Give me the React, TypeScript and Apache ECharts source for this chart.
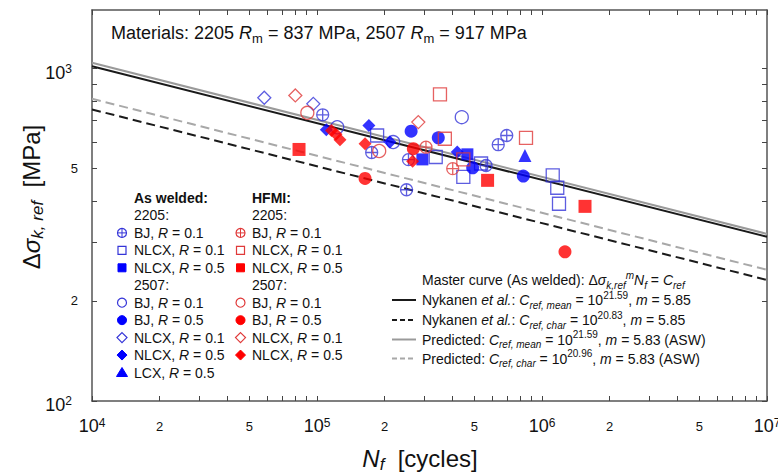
import React, { useEffect, useRef } from "react";
import * as echarts from "echarts";

// ---- Data: [N_f (cycles), Δσ_k,ref (MPa)] ----
// As welded (blue)
const awBJ01_2205 = [[106000, 726], [175000, 559], [255000, 532], [250000, 432], [564000, 511], [639000, 590], [697000, 629]];
const awNLCX01_2205 = [[185000, 629], [337000, 542], [447000, 472], [536000, 518], [1116000, 477], [1169000, 438], [1190000, 392]];
const awNLCX05_2205 = [[294000, 533], [466000, 552]];
const awBJ01_2507 = [[123000, 666], [440000, 714], [218000, 601]];
const awBJ05_2507 = [[262000, 648], [346000, 619], [492000, 503], [826000, 475]];
const awNLCX01_2507 = [[58300, 817], [96300, 783]];
const awNLCX05_2507 = [[110000, 654], [170000, 674], [211000, 601], [420000, 561]];
const awLCX05 = [[840000, 548]];
// HFMI (red)
const hfBJ01_2205 = [[305000, 580], [401000, 500]];
const hfNLCX01_2205 = [[352000, 836], [370000, 615], [447000, 533], [849000, 619]];
const hfNLCX05_2205 = [[83200, 571], [573000, 461], [1553000, 385]];
const hfBJ01_2507 = [[90600, 736], [189000, 565]];
const hfBJ05_2507 = [[163500, 467], [268000, 574], [1265000, 281]];
const hfNLCX01_2507 = [[80100, 830], [282000, 690]];
const hfNLCX05_2507 = [[116000, 651], [121500, 634], [126500, 611], [163500, 594], [266000, 526]];

// Master curves: Δσ^m N = C
const curveLabels = ["Nykanen et al.", "Nykanen et al.", "Predicted", "Predicted"];
const curveKinds = ["mean", "char", "mean", "char"];
const curveLogC = [21.59, 20.83, 21.59, 20.96];
const curveM = [5.85, 5.85, 5.83, 5.83];
const curveNRange = [1e4, 1e7];

// Axes
const xRange = [1e4, 1e7];
const yRange = [100, 1500];
const xLabelValues = [1e4, 2e4, 5e4, 1e5, 2e5, 5e5, 1e6, 2e6, 5e6, 1e7];
const yLabelValues = [100, 200, 500, 1000];
const minorMultipliers = [1, 2, 3, 4, 5, 6, 7, 8, 9];

const FONT = "'Liberation Sans', Arial, Helvetica, sans-serif";
const INK = "#111";
const BLUE = "#0000ff";
const BLUE_O = "#3434d8";
const RED = "#ff0000";
const RED_O = "#e03a3a";
const OPLUS = "path://M10,0A10,10,0,1,1,-10,0A10,10,0,1,1,10,0ZM-10,0L10,0M0,-10L0,10";

const lg = (v: number) => Math.log10(v);
const toLog = (arr: number[][]) => arr.map(([n, s]) => [lg(n), lg(s)]);

function tickValues(lo: number, hi: number) {
  const out: number[] = [];
  for (let d = Math.floor(lg(lo)); d <= Math.ceil(lg(hi)); d++) {
    for (const k of minorMultipliers) {
      const v = k * Math.pow(10, d);
      if (v >= lo * 0.999 && v <= hi * 1.001) out.push(lg(v));
    }
  }
  return out;
}

const fmt = (v: number) => {
  const e = Math.floor(v + 1e-6);
  const mant = Math.round(Math.pow(10, v - e));
  return mant === 1 ? `{b|10}{s|${e}}` : `{m|${mant}}`;
};

const xRich = {
  b: { fontSize: 18, fontFamily: FONT, color: INK, lineHeight: 18, padding: [8, 0, 0, 0] },
  s: { fontSize: 12, fontFamily: FONT, color: INK, lineHeight: 12, padding: [4, 0, 0, 0], verticalAlign: "top" },
  m: { fontSize: 13, fontFamily: FONT, color: INK, lineHeight: 13, padding: [13, 0, 0, 0] },
};
const yRich = {
  b: { fontSize: 18, fontFamily: FONT, color: INK, lineHeight: 18, padding: [8, 0, 0, 0] },
  s: { fontSize: 12, fontFamily: FONT, color: INK, lineHeight: 12, padding: [3, 6, 0, 0], verticalAlign: "top" },
  m: { fontSize: 13, fontFamily: FONT, color: INK, lineHeight: 13 },
};

function gRich(size: number) {
  const ss = Math.round(size * 0.7);
  const base = { fontSize: size, fontFamily: FONT, fill: INK, lineHeight: size + 6 };
  return {
    n: { ...base },
    i: { ...base, fontStyle: "italic" },
    bo: { ...base, fontWeight: "bold" },
    sub: { fontSize: ss, fontFamily: FONT, fill: INK, fontStyle: "italic", lineHeight: ss, verticalAlign: "bottom" },
    subn: { fontSize: ss, fontFamily: FONT, fill: INK, lineHeight: ss, verticalAlign: "bottom" },
    sup: { fontSize: ss, fontFamily: FONT, fill: INK, lineHeight: ss, verticalAlign: "top" },
    supi: { fontSize: ss, fontFamily: FONT, fill: INK, fontStyle: "italic", lineHeight: ss, verticalAlign: "top" },
  };
}

function gText(x: number, y: number, text: string, size: number, extra: any = {}, align = "left") {
  return {
    type: "text",
    x,
    y,
    silent: true,
    z: 100,
    ...extra,
    style: {
      text,
      rich: gRich(size),
      fontSize: size,
      fontFamily: FONT,
      fill: INK,
      align,
      verticalAlign: "middle",
    },
  };
}

function legendSymbol(kind: string, cx: number, cy: number, color: string, filled: boolean) {
  const st = filled ? { fill: color, stroke: color, lineWidth: 1 } : { fill: "none", stroke: color, lineWidth: 1.2 };
  const r = 4.5;
  switch (kind) {
    case "oplus":
      return {
        type: "group",
        z: 100,
        children: [
          { type: "circle", shape: { cx, cy, r }, style: st },
          { type: "line", shape: { x1: cx - r, y1: cy, x2: cx + r, y2: cy }, style: { stroke: color, lineWidth: 1 } },
          { type: "line", shape: { x1: cx, y1: cy - r, x2: cx, y2: cy + r }, style: { stroke: color, lineWidth: 1 } },
        ],
      };
    case "rect":
      return { type: "rect", z: 100, shape: { x: cx - 4, y: cy - 4, width: 8, height: 8 }, style: st };
    case "circle":
      return { type: "circle", z: 100, shape: { cx, cy, r }, style: st };
    case "diamond":
      return { type: "polygon", z: 100, shape: { points: [[cx, cy - 5], [cx + 5, cy], [cx, cy + 5], [cx - 5, cy]] }, style: st };
    default:
      return { type: "polygon", z: 100, shape: { points: [[cx, cy - 5], [cx + 5.5, cy + 4], [cx - 5.5, cy + 4]] }, style: st };
  }
}

const scatterDefs = [
  { name: "AW 2205 BJ R=0.1", data: awBJ01_2205, sym: "oplus", filled: false, col: BLUE_O, size: 12 },
  { name: "AW 2205 NLCX R=0.1", data: awNLCX01_2205, sym: "rect", filled: false, col: BLUE_O, size: 13 },
  { name: "AW 2205 NLCX R=0.5", data: awNLCX05_2205, sym: "rect", filled: true, col: BLUE, size: 12 },
  { name: "AW 2507 BJ R=0.1", data: awBJ01_2507, sym: "circle", filled: false, col: BLUE_O, size: 13 },
  { name: "AW 2507 BJ R=0.5", data: awBJ05_2507, sym: "circle", filled: true, col: BLUE, size: 13 },
  { name: "AW 2507 NLCX R=0.1", data: awNLCX01_2507, sym: "diamond", filled: false, col: BLUE_O, size: 13 },
  { name: "AW 2507 NLCX R=0.5", data: awNLCX05_2507, sym: "diamond", filled: true, col: BLUE, size: 13 },
  { name: "AW LCX R=0.5", data: awLCX05, sym: "triangle", filled: true, col: BLUE, size: 13 },
  { name: "HFMI 2205 BJ R=0.1", data: hfBJ01_2205, sym: "oplus", filled: false, col: RED_O, size: 12 },
  { name: "HFMI 2205 NLCX R=0.1", data: hfNLCX01_2205, sym: "rect", filled: false, col: RED_O, size: 13 },
  { name: "HFMI 2205 NLCX R=0.5", data: hfNLCX05_2205, sym: "rect", filled: true, col: RED, size: 13 },
  { name: "HFMI 2507 BJ R=0.1", data: hfBJ01_2507, sym: "circle", filled: false, col: RED_O, size: 13 },
  { name: "HFMI 2507 BJ R=0.5", data: hfBJ05_2507, sym: "circle", filled: true, col: RED, size: 13 },
  { name: "HFMI 2507 NLCX R=0.1", data: hfNLCX01_2507, sym: "diamond", filled: false, col: RED_O, size: 13 },
  { name: "HFMI 2507 NLCX R=0.5", data: hfNLCX05_2507, sym: "diamond", filled: true, col: RED, size: 13 },
];

const curveStyles = [
  { color: "#1a1a1a", type: "solid" },
  { color: "#1a1a1a", type: [9, 5] },
  { color: "#9a9a9a", type: "solid" },
  { color: "#a8a8a8", type: [9, 5] },
];

function buildOption() {
  const series: any[] = [];
  curveLogC.forEach((logC, i) => {
    series.push({
      type: "line",
      name: curveLabels[i] + " " + curveKinds[i],
      data: curveNRange.map((n) => [lg(n), (logC - lg(n)) / curveM[i]]),
      symbol: "none",
      silent: true,
      z: 1,
      lineStyle: { color: curveStyles[i].color, width: 2, type: curveStyles[i].type as any },
    });
  });
  scatterDefs.forEach((d) => {
    series.push({
      type: "scatter",
      name: d.name,
      data: toLog(d.data),
      symbol: d.sym === "oplus" ? OPLUS : d.sym === "rect" ? "rect" : d.sym,
      symbolSize: d.size,
      z: 3,
      itemStyle: d.filled
        ? { color: d.col }
        : { color: "rgba(0,0,0,0)", borderColor: d.col, borderWidth: 1.3 },
    });
  });

  const xTicks = tickValues(xRange[0], xRange[1]);
  const yTicks = tickValues(yRange[0], yRange[1]);
  const axisLine = { show: true, onZero: false, lineStyle: { color: "#555", width: 1.5 } };
  const tick = (vals: number[]) => ({ show: true, inside: true, length: 5, customValues: vals, lineStyle: { color: "#444", width: 1 } });

  const xAxisBase = { type: "value", min: lg(xRange[0]), max: lg(xRange[1]), splitLine: { show: false }, axisLine };
  const yAxisBase = { type: "value", min: lg(yRange[0]), max: lg(yRange[1]), splitLine: { show: false }, axisLine };

  // Graphic: texts and legends
  const elements: any[] = [];
  elements.push(
    gText(111, 33, "{n|Materials: 2205 }{i|R}{subn|m}{n| = 837 MPa, 2507 }{i|R}{subn|m}{n| = 917 MPa}", 18)
  );
  // axis titles
  elements.push(gText(420, 458, "{i|N}{sub|f}{n|  [cycles]}", 24, {}, "center"));
  elements.push(gText(31, 197, "{n|Δ}{i|σ}{sub|k, ref}{n|  [MPa]}", 24, { rotation: Math.PI / 2 }, "center"));

  // Left legend
  const rowY = (r: number) => 198 + r * 17.45;
  const colSym = [122, 240.5];
  const colTxt = [134, 252];
  elements.push(gText(colTxt[0], rowY(0), "{bo|As welded:}", 14));
  elements.push(gText(colTxt[1], rowY(0), "{bo|HFMI:}", 14));
  elements.push(gText(colTxt[0], rowY(1), "{n|2205:}", 14));
  elements.push(gText(colTxt[1], rowY(1), "{n|2205:}", 14));
  elements.push(gText(colTxt[0], rowY(5), "{n|2507:}", 14));
  elements.push(gText(colTxt[1], rowY(5), "{n|2507:}", 14));
  const legendItems = [
    { row: 2, idx: 0, label: "BJ", R: "0.1" },
    { row: 3, idx: 1, label: "NLCX", R: "0.1" },
    { row: 4, idx: 2, label: "NLCX", R: "0.5" },
    { row: 6, idx: 3, label: "BJ", R: "0.1" },
    { row: 7, idx: 4, label: "BJ", R: "0.5" },
    { row: 8, idx: 5, label: "NLCX", R: "0.1" },
    { row: 9, idx: 6, label: "NLCX", R: "0.5" },
  ];
  legendItems.forEach((it) => {
    [0, 1].forEach((c) => {
      const d = scatterDefs[it.idx + c * 8];
      elements.push(legendSymbol(d.sym, colSym[c], rowY(it.row), d.col, d.filled));
      elements.push(gText(colTxt[c], rowY(it.row), `{n|${it.label}, }{i|R}{n| = ${it.R}}`, 14));
    });
  });
  {
    const d = scatterDefs[7];
    elements.push(legendSymbol(d.sym, colSym[0], rowY(10), d.col, d.filled));
    elements.push(gText(colTxt[0], rowY(10), "{n|LCX, }{i|R}{n| = 0.5}", 14));
  }

  // Right-bottom legend
  const rRows = [300, 320, 339.5, 358.5];
  elements.push(
    gText(422, 280, "{n|Master curve (As welded): Δ}{i|σ}{sub|k,ref}{supi|m}{i|N}{sub|f}{n| = }{i|C}{sub|ref}", 14)
  );
  curveLogC.forEach((logC, i) => {
    const y = rRows[i];
    const st = curveStyles[i];
    elements.push({
      type: "line",
      z: 100,
      shape: { x1: 392, y1: y, x2: 416, y2: y },
      style: { stroke: st.color, lineWidth: 2, lineDash: st.type === "solid" ? null : [5, 3] },
    });
    const lbl = curveLabels[i] === "Nykanen et al." ? "{n|Nykanen }{i|et al.}{n|: }" : "{n|Predicted: }";
    const tail = i >= 2 ? " (ASW)" : "";
    elements.push(
      gText(
        422,
        y,
        `${lbl}{i|C}{sub|ref, ${curveKinds[i]}}{n| = 10}{sup|${curveLogC[i].toFixed(2)}}{n|, }{i|m}{n| = ${curveM[i].toFixed(2)}${tail}}`,
        14
      )
    );
  });

  return {
    animation: false,
    backgroundColor: "#fff",
    grid: { left: 92, right: 11, top: 10, bottom: 75, containLabel: false, outerBoundsMode: "none" },
    xAxis: [
      {
        ...xAxisBase,
        position: "bottom",
        axisTick: tick(xTicks),
        axisLabel: {
          show: true,
          margin: 12,
          customValues: xLabelValues.map(lg),
          formatter: fmt,
          rich: xRich,
          color: INK,
        },
      },
      { ...xAxisBase, position: "top", axisTick: tick(xTicks), axisLabel: { show: false } },
    ],
    yAxis: [
      {
        ...yAxisBase,
        position: "left",
        axisTick: tick(yTicks),
        axisLabel: {
          show: true,
          margin: 14,
          customValues: yLabelValues.map(lg),
          formatter: fmt,
          rich: yRich,
          color: INK,
        },
      },
      { ...yAxisBase, position: "right", axisTick: tick(yTicks), axisLabel: { show: false } },
    ],
    series,
    graphic: { elements },
  };
}

export default function App() {
  const ref = useRef<HTMLDivElement>(null);
  useEffect(() => {
    if (!ref.current) return;
    const chart = echarts.init(ref.current, null, { renderer: "svg" });
    chart.setOption(buildOption() as any);
    return () => chart.dispose();
  }, []);
  return (
    <div
      ref={ref}
      style={{ position: "absolute", left: 0, top: 0, width: 778, height: 476, background: "#fff" }}
    />
  );
}
